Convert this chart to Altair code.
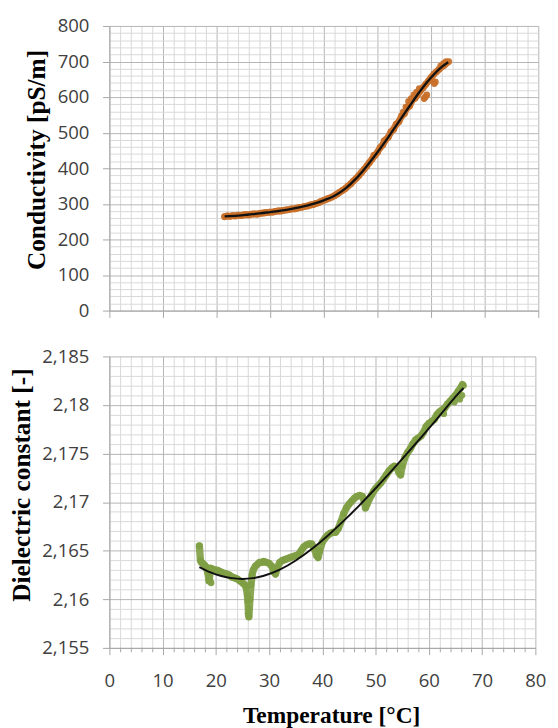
import altair as alt
import pandas as pd

# ---------------- data ----------------
# conductivity measurements (measurement sequence)
cond_temp = [21.5, 22.0, 22.5, 23.0, 23.5, 24.0, 24.5, 25.0, 25.5, 26.0,
             26.5, 27.0, 27.5, 28.0, 28.5, 29.0, 29.5, 30.0, 30.5, 31.0,
             31.5, 32.0, 32.5, 33.0, 33.5, 34.0, 34.5, 35.0, 35.5, 36.0,
             36.5, 37.0, 37.5, 38.0, 38.5, 39.0, 39.5, 40.0, 40.5, 41.0,
             41.5, 42.0, 42.5, 43.0, 43.5, 44.0, 44.5, 45.0, 45.5, 46.0,
             46.5, 47.0, 47.5, 48.0, 48.5, 49.0, 49.5, 50.0, 50.5, 51.0,
             51.5, 52.0, 52.5, 53.0, 53.5, 54.0, 54.5, 55.0, 55.5, 56.0,
             56.5, 57.0, 57.5, 58.0, 58.5, 59.0, 59.5, 60.0, 60.5, 61.0,
             61.5, 62.0, 62.5, 63.0]
cond_value = [264, 266, 265, 267, 266, 268, 267, 269, 270, 269,
              271, 272, 271, 273, 274, 275, 276, 277, 277, 279,
              280, 280, 282, 283, 284, 286, 286, 288, 290, 291,
              293, 294, 297, 298, 301, 303, 307, 310, 313, 316,
              319, 323, 328, 333, 338, 343, 350, 356, 364, 371,
              379, 388, 397, 406, 416, 426, 436, 445, 458, 466,
              480, 487, 502, 509, 524, 531, 547, 553, 570, 575,
              592, 597, 607, 618, 626, 636, 645, 655, 664, 671,
              678, 685, 690, 697]
# scattered outlying conductivity readings
cond_out_temp = [49.3, 51.2, 54.8, 55.3, 55.8, 56.3, 56.8, 57.3, 57.8,
                 58.7, 58.9, 59.2, 60.6, 60.8, 61.8, 62.3, 62.8, 63.3]
cond_out_value = [436, 476, 558, 572, 588, 596, 606, 614, 624,
                  596, 600, 606, 638, 643, 688, 694, 700, 700]

cond_fit_temp = [21.5, 24, 26, 28, 30, 32, 34, 36, 38, 40, 42, 44, 46,
                 48, 50, 52, 54, 56, 58, 60, 62, 63.2]
cond_fit_value = [265, 267, 270, 273, 277, 281, 286, 292, 300, 310, 323,
                  343, 371, 406, 445, 487, 531, 575, 618, 655, 685, 698]

# dielectric constant measurements (measurement sequence)
diel_temp = [16.9, 17.1, 17.3, 17.5, 17.7, 17.9, 18.2, 18.5, 18.7, 18.8,
             19.0, 19.4, 19.8, 20.2, 20.6, 21.0, 21.5, 22.0, 22.5, 23.0,
             23.5, 24.0, 24.5, 25.0, 25.4, 25.7, 25.9, 26.0, 26.1, 26.1,
             26.2, 26.4, 26.6, 26.8, 27.0, 27.4, 27.8, 28.2, 28.6, 29.0,
             29.5, 30.0, 30.5, 30.9, 31.2, 31.5, 32.0, 32.5, 33.0, 33.5,
             34.0, 34.5, 35.0, 35.5, 36.0, 36.5, 37.0, 37.5, 38.0, 38.5,
             38.9, 39.2, 39.5, 40.0, 40.5, 41.0, 41.5, 42.0, 42.5, 43.0,
             43.5, 44.0, 44.5, 45.0, 45.5, 46.0, 46.5, 47.0, 47.5, 47.9,
             48.1, 48.4, 48.8, 49.2, 49.6, 50.0, 50.5, 51.0, 51.5, 52.0,
             52.5, 53.0, 53.5, 54.0, 54.4, 54.7, 55.0, 55.5, 56.0, 56.5,
             57.0, 57.5, 58.0, 58.5, 59.0, 59.5, 60.0, 60.5, 61.0, 61.5,
             62.0, 62.5, 63.0, 63.5, 64.0, 64.5, 65.0, 65.5, 66.0, 66.3]
diel_value = [2.1655, 2.1640, 2.1638, 2.1637, 2.1636, 2.1635, 2.1633, 2.1627, 2.1619, 2.1622,
              2.1632, 2.1631, 2.1630, 2.1630, 2.1629, 2.1628, 2.1627, 2.1626, 2.1625, 2.1623,
              2.1622, 2.1621, 2.1619, 2.1617, 2.1615, 2.1612, 2.1605, 2.1598, 2.1591, 2.1585,
              2.1582, 2.1600, 2.1615, 2.1625, 2.1630, 2.1634, 2.1636, 2.1638, 2.1638, 2.1639,
              2.1638, 2.1637, 2.1634, 2.1628, 2.1626, 2.1632, 2.1638, 2.1640, 2.1641, 2.1642,
              2.1643, 2.1644, 2.1645, 2.1646, 2.1650, 2.1654, 2.1656, 2.1657, 2.1657, 2.1652,
              2.1645, 2.1643, 2.1650, 2.1659, 2.1663, 2.1666, 2.1668, 2.1669, 2.1669, 2.1673,
              2.1680, 2.1688, 2.1694, 2.1698, 2.1701, 2.1704, 2.1706, 2.1707, 2.1706, 2.1700,
              2.1694, 2.1698, 2.1703, 2.1707, 2.1711, 2.1714, 2.1717, 2.1720, 2.1724, 2.1728,
              2.1732, 2.1735, 2.1737, 2.1736, 2.1730, 2.1728, 2.1737, 2.1746, 2.1751, 2.1755,
              2.1760, 2.1764, 2.1766, 2.1768, 2.1772, 2.1778, 2.1781, 2.1783, 2.1785, 2.1790,
              2.1793, 2.1795, 2.1797, 2.1801, 2.1804, 2.1807, 2.1810, 2.1814, 2.1818, 2.1821]
# scattered outlying dielectric readings
diel_out_temp = [18.9, 19.1, 65.8, 66.2, 66.5, 64.8, 62.8]
diel_out_value = [2.1619, 2.1617, 2.1806, 2.1810, 2.1820, 2.1803, 2.1791]

diel_fit_temp = [16.9, 19, 21, 23, 25, 27, 29, 32, 35, 38, 41, 44, 47, 50,
                 53, 56, 59, 62, 65, 66.5]
diel_fit_value = [2.16332, 2.16277, 2.16240, 2.16218, 2.16210, 2.16218,
                  2.16242, 2.16306, 2.16400, 2.16518, 2.16655, 2.16807,
                  2.16970, 2.17143, 2.17322, 2.17507, 2.17696, 2.17889,
                  2.18085, 2.18175]

x_ticks = list(range(0, 81, 2))
cond_ticks = list(range(0, 801, 20))
diel_ticks = [round(2.155 + 0.001 * i, 3) for i in range(31)]

cond_df = pd.DataFrame({"T": cond_temp, "V": cond_value, "i": range(len(cond_temp))})
cond_pts_df = pd.DataFrame({"T": cond_temp + cond_out_temp, "V": cond_value + cond_out_value})
cond_fit_df = pd.DataFrame({"T": cond_fit_temp, "V": cond_fit_value})
diel_df = pd.DataFrame({"T": diel_temp, "V": diel_value, "i": range(len(diel_temp))})
diel_pts_df = pd.DataFrame({"T": diel_temp + diel_out_temp, "V": diel_value + diel_out_value})
diel_fit_df = pd.DataFrame({"T": diel_fit_temp, "V": diel_fit_value})

# ---------------- styling ----------------
MAJOR_GRID = "#b4b4b4"
MINOR_GRID = "#d8d8d8"
AXIS_GRAY = "#a6a6a6"
ORANGE = "#c8702a"
GREEN = "#7f9f45"

TOP_H = 292
BOT_H = 299
BOT_W = 437

major_x = "datum.value % 10 === 0"
major_c = "datum.value % 100 === 0"
major_d = "abs(round(datum.value * 1000)) % 5 === 0"


def cond(test, a, b):
    return {"condition": {"test": test, "value": a}, "value": b}


x_axis_top = alt.Axis(values=x_ticks, labels=False, title=None,
                      gridColor=cond(major_x, MAJOR_GRID, MINOR_GRID),
                      tickSize=cond(major_x, 7, 0))
x_axis_bottom = alt.Axis(values=x_ticks, title="Temperature [°C]",
                         labelExpr=f"{major_x} ? datum.label : ''",
                         labelOverlap=False, labelFlush=False,
                         labelPadding=18, titlePadding=14,
                         titleFontSize=24, titleX=BOT_W / 2 + 9,
                         gridColor=cond(major_x, MAJOR_GRID, MINOR_GRID),
                         tickSize=cond(major_x, 7, 4))
y_axis_cond = alt.Axis(values=cond_ticks, title="Conductivity [pS/m]",
                       labelExpr=f"{major_c} ? datum.label : ''",
                       labelOverlap=False, labelFlush=False,
                       labelPadding=14, titlePadding=8,
                       titleFontSize=26, titleY=TOP_H / 2 - 9,
                       gridColor=cond(major_c, MAJOR_GRID, MINOR_GRID),
                       tickSize=cond(major_c, 7, 0))
y_axis_diel = alt.Axis(values=diel_ticks, title="Dielectric constant [-]",
                       labelExpr=f"{major_d} ? replace(format(datum.value, '.3~f'), '.', ',') : ''",
                       labelOverlap=False, labelFlush=False,
                       labelPadding=14, titlePadding=8,
                       titleFontSize=26, titleY=BOT_H / 2 - 18,
                       gridColor=cond(major_d, MAJOR_GRID, MINOR_GRID),
                       tickSize=cond(major_d, 7, 0))

x_top = alt.X("T:Q", scale=alt.Scale(domain=[0, 80], nice=False), axis=x_axis_top)
y_top = alt.Y("V:Q", scale=alt.Scale(domain=[0, 800], nice=False), axis=y_axis_cond)
x_bot = alt.X("T:Q", scale=alt.Scale(domain=[0, 80], nice=False), axis=x_axis_bottom)
y_bot = alt.Y("V:Q", scale=alt.Scale(domain=[2.155, 2.185], nice=False, zero=False),
              axis=y_axis_diel)

top_band = alt.Chart(cond_df).mark_line(color=ORANGE, strokeWidth=7, strokeCap="round",
                                        strokeJoin="round", opacity=0.9).encode(
    x=x_top, y=y_top, order="i:Q")
top_pts = alt.Chart(cond_pts_df).mark_circle(size=48, color=ORANGE, opacity=0.95).encode(x=x_top, y=y_top)
top_fit = alt.Chart(cond_fit_df).mark_line(color="#111111", strokeWidth=2.4,
                                           interpolate="monotone").encode(x=x_top, y=y_top)
top = alt.layer(top_band, top_pts, top_fit).properties(width=440, height=TOP_H)

bot_band = alt.Chart(diel_df).mark_line(color=GREEN, strokeWidth=7.5, strokeCap="round",
                                        strokeJoin="round", opacity=0.9).encode(
    x=x_bot, y=y_bot, order="i:Q")
bot_pts = alt.Chart(diel_pts_df).mark_circle(size=48, color=GREEN, opacity=0.95).encode(x=x_bot, y=y_bot)
bot_fit = alt.Chart(diel_fit_df).mark_line(color="#111111", strokeWidth=2,
                                           interpolate="natural").encode(x=x_bot, y=y_bot)
bottom = alt.layer(bot_band, bot_pts, bot_fit).properties(width=BOT_W, height=BOT_H)

chart = (
    alt.vconcat(top, bottom, spacing=28)
    .properties(padding={"left": 0, "top": 0, "right": 4, "bottom": 0}, background="white")
    .configure_view(stroke=None)
    .configure_axis(
        labelFont="Open Sans", labelFontSize=19, labelColor="#404040",
        titleFont="Liberation Serif", titleFontWeight="bold",
        titleColor="#000000", domainColor=AXIS_GRAY, tickColor=AXIS_GRAY,
        gridWidth=1, gridOpacity=1,
    )
)

chart.save("out.html", embed_options={"renderer": "svg", "actions": False})
